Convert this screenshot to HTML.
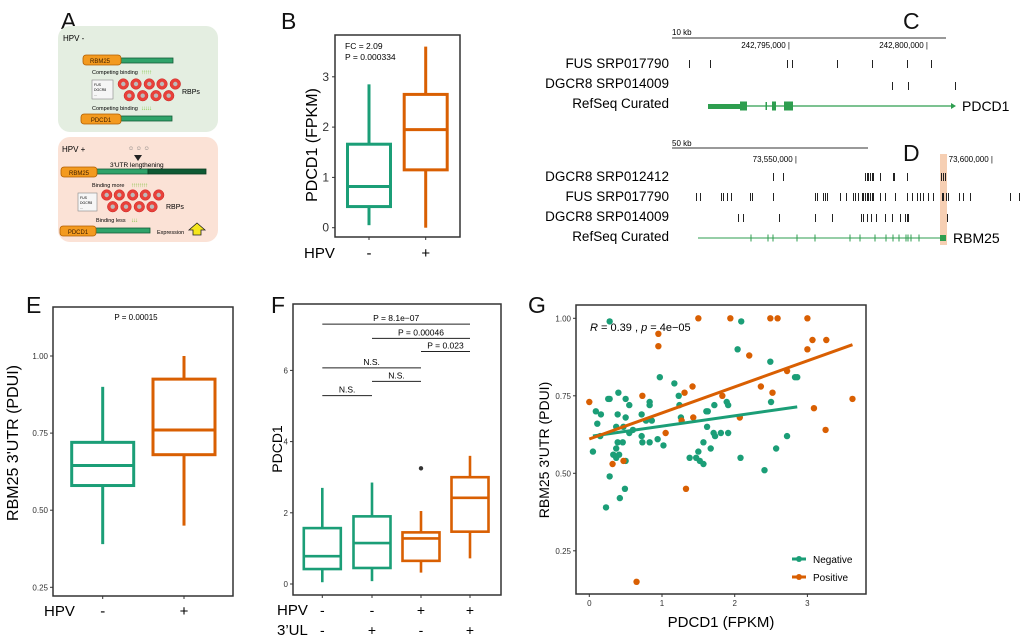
<!DOCTYPE html>
<html><head><meta charset="utf-8"><style>
html,body{margin:0;padding:0;background:#fff;}
svg{display:block;font-family:"Liberation Sans",Arial,sans-serif;}
</style></head><body>
<svg id="fig" width="1020" height="642" viewBox="0 0 1020 642" xmlns="http://www.w3.org/2000/svg">
<g font-size="23" fill="#111">
<text x="61" y="29">A</text><text x="281" y="29">B</text><text x="903" y="29">C</text><text x="903" y="161">D</text>
<text x="26" y="313">E</text><text x="271" y="313">F</text><text x="528" y="313">G</text>
</g>

<g id="panelA">
<rect x="58" y="26" width="160" height="106" rx="12" fill="#e4eee1"/>
<rect x="58" y="137" width="160" height="105" rx="12" fill="#fbe2d6"/>
<text x="63" y="41" font-size="8">HPV -</text>
<text x="62" y="152" font-size="8">HPV +</text>
<rect x="121" y="58" width="52" height="5" fill="#2fa36a" stroke="#155c38" stroke-width="0.8"/>
<rect x="83" y="55" width="38" height="10" rx="3" fill="#f39a1f" stroke="#b25e00" stroke-width="0.8"/>
<text x="100" y="63" font-size="6" text-anchor="middle" fill="#402000">RBM25</text>
<text x="92" y="74" font-size="5.5">Competing binding</text>
<text x="141" y="74" font-size="6" fill="#7cc23a" letter-spacing="-1">↑↑↑↑↑</text>
<rect x="92" y="80" width="21" height="19" fill="#f6f6f6" stroke="#888" stroke-width="0.6"/>
<text x="94" y="86" font-size="3.5">FUS</text><text x="94" y="91" font-size="3.5">DGCR8</text><text x="94" y="96" font-size="3.5">...</text>
<text x="182" y="94" font-size="7">RBPs</text>
<text x="92" y="110" font-size="5.5">Competing binding</text>
<text x="141" y="110" font-size="6" fill="#7cc23a" letter-spacing="-1">↓↓↓↓↓</text>
<rect x="121" y="116" width="51" height="5" fill="#2fa36a" stroke="#155c38" stroke-width="0.8"/>
<rect x="81" y="114" width="40" height="10" rx="3" fill="#f39a1f" stroke="#b25e00" stroke-width="0.8"/>
<text x="101" y="122" font-size="6" text-anchor="middle" fill="#402000">PDCD1</text>
<text x="128" y="150" font-size="6" fill="#777">☺ ☺ ☺</text>
<polygon points="134,155 142,155 138,161" fill="#222"/>
<text x="110" y="167" font-size="6.5">3'UTR lengthening</text>
<rect x="97" y="169" width="51" height="5" fill="#2fa36a" stroke="#155c38" stroke-width="0.8"/>
<rect x="148" y="169" width="58" height="5" fill="#0f5a34" stroke="#0a3d22" stroke-width="0.8"/>
<rect x="61" y="167" width="36" height="10" rx="3" fill="#f39a1f" stroke="#b25e00" stroke-width="0.8"/>
<text x="79" y="175" font-size="6" text-anchor="middle" fill="#402000">RBM25</text>
<text x="92" y="187" font-size="5.5">Binding more</text>
<text x="131" y="187" font-size="6" fill="#7cc23a" letter-spacing="-1">↑↑↑↑↑↑↑↑</text>
<rect x="78" y="193" width="19" height="18" fill="#f6f6f6" stroke="#888" stroke-width="0.6"/>
<text x="80" y="199" font-size="3.5">FUS</text><text x="80" y="204" font-size="3.5">DGCR8</text><text x="80" y="209" font-size="3.5">...</text>
<text x="166" y="209" font-size="7">RBPs</text>
<text x="96" y="222" font-size="5.5">Binding less</text>
<text x="131" y="222" font-size="6" fill="#7cc23a" letter-spacing="-1">↓↓↓</text>
<rect x="96" y="228" width="54" height="5" fill="#2fa36a" stroke="#155c38" stroke-width="0.8"/>
<rect x="60" y="226" width="36" height="10" rx="3" fill="#f39a1f" stroke="#b25e00" stroke-width="0.8"/>
<text x="78" y="234" font-size="6" text-anchor="middle" fill="#402000">PDCD1</text>
<text x="157" y="234" font-size="5.5">Expression</text>
<polygon points="197,223 205,230 201,230 201,235 193,235 193,230 189,230" fill="#f5e61c" stroke="#222" stroke-width="0.8"/>
</g>

<g id="circlesA"></g>
<g id="panelB"></g>
<g id="panelCD"></g>
<g id="panelE"></g>
<g id="panelF"></g>
<g id="panelG"></g>
</svg>
<script>
const bGroups = ["-", "+"];
const bStats = [[0.05, 0.42, 0.82, 1.66, 2.85], [0.0, 1.15, 1.95, 2.65, 3.6]];
const bTicks = [0, 1, 2, 3];
const eGroups = ["-", "+"];
const eStats = [[0.39, 0.58, 0.645, 0.72, 0.90], [0.45, 0.68, 0.76, 0.925, 1.00]];
const eTicks = ["0.25", "0.50", "0.75", "1.00"];
const fHPV = ["-", "-", "+", "+"];
const fUL = ["-", "+", "-", "+"];
const fStats = [[0.05, 0.42, 0.78, 1.57, 2.7], [0.08, 0.45, 1.15, 1.9, 2.85], [0.32, 0.65, 1.28, 1.45, 2.05], [0.72, 1.47, 2.42, 3.0, 3.6]];
const fOutliers = [[], [], [3.25], []];
const fTicks = [0, 2, 4, 6];
const fBrackets = [[0, 3, 7.3, "P = 8.1e\u221207"], [1, 3, 6.9, "P = 0.00046"], [2, 3, 6.53, "P = 0.023"], [0, 2, 6.07, "N.S."], [1, 2, 5.69, "N.S."], [0, 1, 5.29, "N.S."]];
const negX = [0.28,2.09,2.04,2.49,0.97,1.17,2.83,2.86,0.26,0.28,0.40,0.50,0.55,0.09,0.16,0.11,0.39,0.50,1.23,1.24,0.83,0.83,0.72,0.78,0.86,0.37,0.47,0.60,0.55,0.15,0.72,0.39,0.46,0.73,0.83,0.94,1.02,0.05,0.37,0.33,0.41,0.37,0.50,0.28,0.49,0.42,0.23,1.26,1.61,1.63,1.72,1.89,1.91,1.62,1.71,1.73,1.81,1.91,1.57,1.67,1.50,1.38,1.47,1.52,1.57,2.08,2.41,2.57,2.72,2.50];
const negY = [0.99,0.99,0.90,0.86,0.81,0.79,0.81,0.81,0.74,0.74,0.76,0.74,0.72,0.70,0.69,0.66,0.69,0.68,0.75,0.72,0.73,0.72,0.69,0.67,0.67,0.65,0.65,0.64,0.63,0.62,0.62,0.60,0.60,0.60,0.60,0.61,0.59,0.57,0.58,0.56,0.56,0.55,0.54,0.49,0.45,0.42,0.39,0.68,0.70,0.70,0.72,0.73,0.72,0.65,0.63,0.62,0.63,0.63,0.60,0.58,0.57,0.55,0.55,0.54,0.53,0.55,0.51,0.58,0.62,0.73];
const posX = [0.00,1.50,1.94,2.49,2.59,3.00,0.95,0.95,3.07,3.26,3.00,2.20,2.72,2.36,2.52,1.42,1.31,0.73,1.83,3.62,3.09,1.43,1.27,2.07,3.25,1.05,0.32,0.47,1.33,0.65];
const posY = [0.73,1.00,1.00,1.00,1.00,1.00,0.95,0.91,0.93,0.93,0.90,0.88,0.83,0.78,0.76,0.78,0.76,0.75,0.75,0.74,0.71,0.68,0.67,0.68,0.64,0.63,0.53,0.54,0.45,0.15];
const gXTicks = [0, 1, 2, 3];
const gYTicks = ["0.25", "0.50", "0.75", "1.00"];
const cFus = [689,710,787,792,837,872,907,931];
const cDgcr = [892,908,955];
const dT1 = [773,783,865,867,868,870,872,873,880,893,894,907,941,943,945];
const dT2 = [696,700,721,723,727,731,750,752,773,815,817,823,825,827,840,846,853,855,858,862,863,865,867,868,870,872,873,880,885,895,907,912,917,920,923,928,933,942,943,946,948,959,963,970,1010,1019];
const dT3 = [738,743,779,815,832,861,863,867,871,876,885,892,900,905,907,908,947];
const dExons = [751,768,773,797,815,850,860,875,886,893,899,906,908,911,919];

const NS = "http://www.w3.org/2000/svg";
function mk(parent, tag, attrs, text) {
  const e = document.createElementNS(NS, tag);
  for (const k in attrs) e.setAttribute(k, attrs[k]);
  if (text !== undefined) e.textContent = text;
  parent.appendChild(e);
  return e;
}
const TEAL = "#1b9e77", ORANGE = "#d95f02";

(function(){
  const g = document.getElementById("circlesA");
  const rows = [[84,[123.3,136,149.3,162,175.3]],[95.7,[129.3,142.7,156,168.7]],[195,[106.7,119.3,132.7,145.3,158.7]],[206.7,[112.7,126,139.3,152]]];
  rows.forEach(r => r[1].forEach(x => {
    const c = mk(g, "circle", {cx:x, cy:r[0], r:5.3, fill:"#e8413a", stroke:"#c22", "stroke-width":0.5});
    
    
    mk(g, "circle", {cx:x, cy:r[0], r:2.2, fill:"#bbb"});
  }));
})();

function boxplot(g, statsArr, xPos, yScale, halfW, colors, lw) {
  statsArr.forEach((s, i) => {
    const x = xPos[i], c = colors[i];
    const bg = mk(g, "g", {});
    
    
    mk(bg, "line", {x1:x, x2:x, y1:yScale(s[0]), y2:yScale(s[1]), stroke:c, "stroke-width":lw});
    mk(bg, "line", {x1:x, x2:x, y1:yScale(s[3]), y2:yScale(s[4]), stroke:c, "stroke-width":lw});
    mk(bg, "rect", {x:x-halfW, y:yScale(s[3]), width:2*halfW, height:yScale(s[1])-yScale(s[3]), fill:"#fff", stroke:c, "stroke-width":lw});
    mk(bg, "line", {x1:x-halfW, x2:x+halfW, y1:yScale(s[2]), y2:yScale(s[2]), stroke:c, "stroke-width":lw});
  });
}
function frame(g, x0, y0, x1, y1) {
  const r = mk(g, "rect", {x:x0, y:y0, width:x1-x0, height:y1-y0, fill:"none", stroke:"#333", "stroke-width":1.5});
  
  
}

(function(){
  const g = document.getElementById("panelB");
  const y = v => 227.7 - v * 50.3;
  const xs = [369, 425.7];
  frame(g, 335, 35, 460, 237);
  boxplot(g, bStats, xs, y, 21.5, [TEAL, ORANGE], 3);
  bTicks.forEach(t => {
    mk(g, "line", {x1:332, x2:335, y1:y(t), y2:y(t), stroke:"#333"});
    const tl = mk(g, "text", {x:329, y:y(t)+4, "font-size":12, "text-anchor":"end", fill:"#333"}, t);
    
    
  });
  bGroups.forEach((lab, i) => {
    mk(g, "line", {x1:xs[i], x2:xs[i], y1:237, y2:240, stroke:"#333"});
    const t = mk(g, "text", {x:xs[i], y:258, "font-size":15, "text-anchor":"middle"}, lab);
    
    
  });
  mk(g, "text", {x:304, y:258, "font-size":15}, "HPV");
  const yl = mk(g, "text", {x:0, y:0, "font-size":16, "text-anchor":"middle", transform:"translate(317,145) rotate(-90)"}, "PDCD1 (FPKM)");
  
  
  mk(g, "text", {x:345, y:49, "font-size":8.5}, "FC = 2.09");
  mk(g, "text", {x:345, y:60, "font-size":8.5}, "P = 0.000334");
})();

(function(){
  const g = document.getElementById("panelE");
  const y = v => 356 - (v - 1) * 308.4;
  const xs = [102.7, 184];
  frame(g, 53, 307, 233, 596);
  boxplot(g, eStats, xs, y, 31, [TEAL, ORANGE], 3);
  eTicks.forEach(t => {
    const v = parseFloat(t);
    mk(g, "line", {x1:50, x2:53, y1:y(v), y2:y(v), stroke:"#333"});
    const tl = mk(g, "text", {x:48, y:y(v)+3, "font-size":8, "text-anchor":"end", fill:"#333"}, t);
    
    
  });
  eGroups.forEach((lab, i) => {
    mk(g, "line", {x1:xs[i], x2:xs[i], y1:596, y2:599, stroke:"#333"});
    mk(g, "text", {x:xs[i], y:616, "font-size":15, "text-anchor":"middle"}, lab);
  });
  mk(g, "text", {x:44, y:616, "font-size":15}, "HPV");
  const yl = mk(g, "text", {x:0, y:0, "font-size":16, "text-anchor":"middle", transform:"translate(18,443) rotate(-90)"}, "RBM25 3'UTR (PDUI)");
  
  
  mk(g, "text", {x:136, y:320, "font-size":8, "text-anchor":"middle"}, "P = 0.00015");
})();

(function(){
  const g = document.getElementById("panelF");
  const y = v => 584 - v * 35.6;
  const xs = [322.3, 372, 421, 470];
  frame(g, 293, 304, 501, 595);
  boxplot(g, fStats, xs, y, 18.5, [TEAL, TEAL, ORANGE, ORANGE], 2.6);
  fOutliers.forEach((arr, i) => arr.forEach(v => {
    const c = mk(g, "circle", {cx:xs[i], cy:y(v), r:2.2, fill:"#333"});
    
    
  }));
  fTicks.forEach(t => {
    mk(g, "line", {x1:290, x2:293, y1:y(t), y2:y(t), stroke:"#333"});
    mk(g, "text", {x:288, y:y(t)+3, "font-size":8, "text-anchor":"end", fill:"#333"}, t);
  });
  fBrackets.forEach(b => {
    const yy = y(b[2]);
    const l = mk(g, "line", {x1:xs[b[0]], x2:xs[b[1]], y1:yy, y2:yy, stroke:"#222", "stroke-width":1});
    
    
    mk(g, "text", {x:(xs[b[0]]+xs[b[1]])/2, y:yy-3, "font-size":8.5, "text-anchor":"middle"}, b[3]);
  });
  xs.forEach((x, i) => {
    mk(g, "line", {x1:x, x2:x, y1:595, y2:598, stroke:"#333"});
    mk(g, "text", {x:x, y:615, "font-size":14, "text-anchor":"middle"}, fHPV[i]);
    mk(g, "text", {x:x, y:635, "font-size":14, "text-anchor":"middle"}, fUL[i]);
  });
  mk(g, "text", {x:277, y:615, "font-size":15}, "HPV");
  mk(g, "text", {x:277, y:635, "font-size":15}, "3\u2019UL");
  const yl = mk(g, "text", {x:0, y:0, "font-size":14, "text-anchor":"middle", transform:"translate(282,449) rotate(-90)"}, "PDCD1");
  
  
})();

(function(){
  const g = document.getElementById("panelG");
  const x = v => 589.3 + v * 72.7;
  const y = v => 318.3 - (v - 1) * 310;
  frame(g, 576, 305, 866, 594);
  gXTicks.forEach(t => {
    mk(g, "line", {x1:x(t), x2:x(t), y1:594, y2:597, stroke:"#333"});
    mk(g, "text", {x:x(t), y:606, "font-size":8, "text-anchor":"middle", fill:"#333"}, t);
  });
  gYTicks.forEach(t => {
    const v = parseFloat(t);
    mk(g, "line", {x1:573, x2:576, y1:y(v), y2:y(v), stroke:"#333"});
    mk(g, "text", {x:571, y:y(v)+3, "font-size":8, "text-anchor":"end", fill:"#333"}, t);
  });
  function fit(xa, ya) {
    const n = xa.length; let mx = 0, my = 0;
    for (let i = 0; i < n; i++) { mx += xa[i]; my += ya[i]; }
    mx /= n; my /= n;
    let sxy = 0, sxx = 0;
    for (let i = 0; i < n; i++) { sxy += (xa[i]-mx)*(ya[i]-my); sxx += (xa[i]-mx)**2; }
    const b = sxy / sxx; return [my - b*mx, b, Math.min(...xa), Math.max(...xa)];
  }
  function series(xa, ya, col, name) {
    const sg = mk(g, "g", {});
    
    
    xa.forEach((v, i) => {
      const c = mk(sg, "circle", {cx:x(v), cy:y(ya[i]), r:3.2, fill:col});
      
      
    });
  }
  series(negX, negY, TEAL, "negative");
  series(posX, posY, ORANGE, "positive");
  [[negX, negY, TEAL, "negative"], [posX, posY, ORANGE, "positive"]].forEach(s => {
    const f = fit(s[0], s[1]);
    const l = mk(g, "line", {x1:x(f[2]), y1:y(f[0]+f[1]*f[2]), x2:x(f[3]), y2:y(f[0]+f[1]*f[3]), stroke:s[2], "stroke-width":3});
    
    
  });
  mk(g, "text", {x:590, y:331, "font-size":11}, "").innerHTML = '<tspan font-style="italic">R</tspan> = 0.39 , <tspan font-style="italic">p</tspan> = 4e\u221205';
  const leg = mk(g, "g", {});
  
  
  [["Negative", TEAL, 559], ["Positive", ORANGE, 577]].forEach(e => {
    const eg = mk(leg, "g", {});
    
    
    mk(eg, "line", {x1:792, x2:806, y1:e[2], y2:e[2], stroke:e[1], "stroke-width":3});
    mk(eg, "circle", {cx:799, cy:e[2], r:3, fill:e[1]});
    mk(eg, "text", {x:813, y:e[2]+4, "font-size":10}, e[0]);
  });
  const xl = mk(g, "text", {x:721, y:627, "font-size":15, "text-anchor":"middle"}, "PDCD1 (FPKM)");
  
  
  const yl = mk(g, "text", {x:0, y:0, "font-size":14, "text-anchor":"middle", transform:"translate(549,450) rotate(-90)"}, "RBM25 3'UTR (PDUI)");
  
  
})();

(function(){
  const g = document.getElementById("panelCD");
  mk(g, "rect", {x:940, y:154, width:7, height:91, fill:"#f6cfb3"});
  mk(g, "line", {x1:672, x2:946, y1:38, y2:38, stroke:"#333", "stroke-width":1});
  mk(g, "text", {x:672, y:35, "font-size":8}, "10 kb");
  mk(g, "text", {x:790, y:48, "font-size":8, "text-anchor":"end"}, "242,795,000 |");
  mk(g, "text", {x:928, y:48, "font-size":8, "text-anchor":"end"}, "242,800,000 |");
  const lab = (txt, yy) => { const t = mk(g, "text", {x:669, y:yy, "font-size":13.5, "text-anchor":"end"}, txt);   };
  const ticks = (arr, yy, h) => arr.forEach(v => {
    const l = mk(g, "line", {x1:Math.round(v)+0.5, x2:Math.round(v)+0.5, y1:yy-h/2, y2:yy+h/2, stroke:"#222", "stroke-width":1, "shape-rendering":"crispEdges"});
    
    
  });
  lab("FUS SRP017790", 68); ticks(cFus, 64, 8);
  lab("DGCR8 SRP014009", 88); ticks(cDgcr, 86, 8);
  lab("RefSeq Curated", 108);
  mk(g, "line", {x1:708, x2:953, y1:106, y2:106, stroke:"#2e9e4f", "stroke-width":1.2});
  mk(g, "polygon", {points:"951,103 956,106 951,109", fill:"#2e9e4f"});
  mk(g, "rect", {x:708, y:104, width:35, height:5, fill:"#2e9e4f"});
  mk(g, "rect", {x:740, y:101.5, width:7, height:9, fill:"#2e9e4f"});
  mk(g, "rect", {x:765.5, y:102, width:1.5, height:8, fill:"#2e9e4f"});
  mk(g, "rect", {x:772, y:101.5, width:4, height:9, fill:"#2e9e4f"});
  mk(g, "rect", {x:784, y:101.5, width:9, height:9, fill:"#2e9e4f"});
  mk(g, "text", {x:962, y:111, "font-size":14}, "PDCD1");
  mk(g, "line", {x1:672, x2:868, y1:148, y2:148, stroke:"#333", "stroke-width":1});
  mk(g, "text", {x:672, y:146, "font-size":8}, "50 kb");
  mk(g, "text", {x:797, y:162, "font-size":8, "text-anchor":"end"}, "73,550,000 |");
  mk(g, "text", {x:993, y:162, "font-size":8, "text-anchor":"end"}, "73,600,000 |");
  lab("DGCR8 SRP012412", 181); ticks(dT1, 177, 8);
  lab("FUS SRP017790", 201); ticks(dT2, 197, 8);
  lab("DGCR8 SRP014009", 221); ticks(dT3, 218, 8);
  lab("RefSeq Curated", 241);
  mk(g, "line", {x1:698, x2:943, y1:238, y2:238, stroke:"#2e9e4f", "stroke-width":1});
  dExons.forEach(v => mk(g, "line", {x1:v, x2:v, y1:234.5, y2:241.5, stroke:"#2e9e4f", "stroke-width":1}));
  mk(g, "rect", {x:940, y:235, width:6, height:6, fill:"#2e9e4f"});
  mk(g, "text", {x:953, y:243, "font-size":14}, "RBM25");
})();
</script>
</body></html>
